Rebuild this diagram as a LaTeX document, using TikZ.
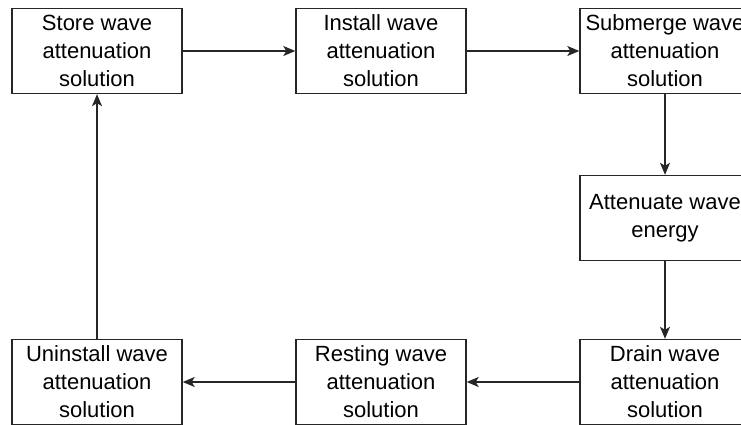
\documentclass[tikz,border=0pt]{standalone}
\usepackage{fontspec}
\setmainfont{Liberation Sans}
\usetikzlibrary{arrows.meta}
\begin{document}
\begin{tikzpicture}[x=1pt,y=-1pt,
  stepbox/.style={draw=black!85, line width=1.4pt, minimum width=170pt, minimum height=85pt, inner sep=0pt, align=center, font=\fontsize{22}{28}\selectfont},
  flow/.style={draw=black!85, line width=1.4pt, -{Stealth[length=12pt,width=10pt,inset=3pt]}}]
\useasboundingbox (0,0) rectangle (741,424);
\fill[white] (0,0) rectangle (741,424);
\clip (0,0) rectangle (741,424);
\node[stepbox] (store) at (97,51) {Store wave\\attenuation\\solution};
\node[stepbox] (install) at (381,51) {Install wave\\attenuation\\solution};
\node[stepbox] (submerge) at (665,51) {Submerge wave\\attenuation\\solution};
\node[stepbox] (attenuate) at (665,218) {Attenuate wave\\energy};
\node[stepbox] (drain) at (665,382) {Drain wave\\attenuation\\solution};
\node[stepbox] (resting) at (381,382) {Resting wave\\attenuation\\solution};
\node[stepbox] (uninstall) at (97,382) {Uninstall wave\\attenuation\\solution};
\draw[flow] (store) -- (install);
\draw[flow] (install) -- (submerge);
\draw[flow] (submerge) -- (attenuate);
\draw[flow] (attenuate) -- (drain);
\draw[flow] (drain) -- (resting);
\draw[flow] (resting) -- (uninstall);
\draw[flow] (uninstall) -- (store);
\end{tikzpicture}
\end{document}
